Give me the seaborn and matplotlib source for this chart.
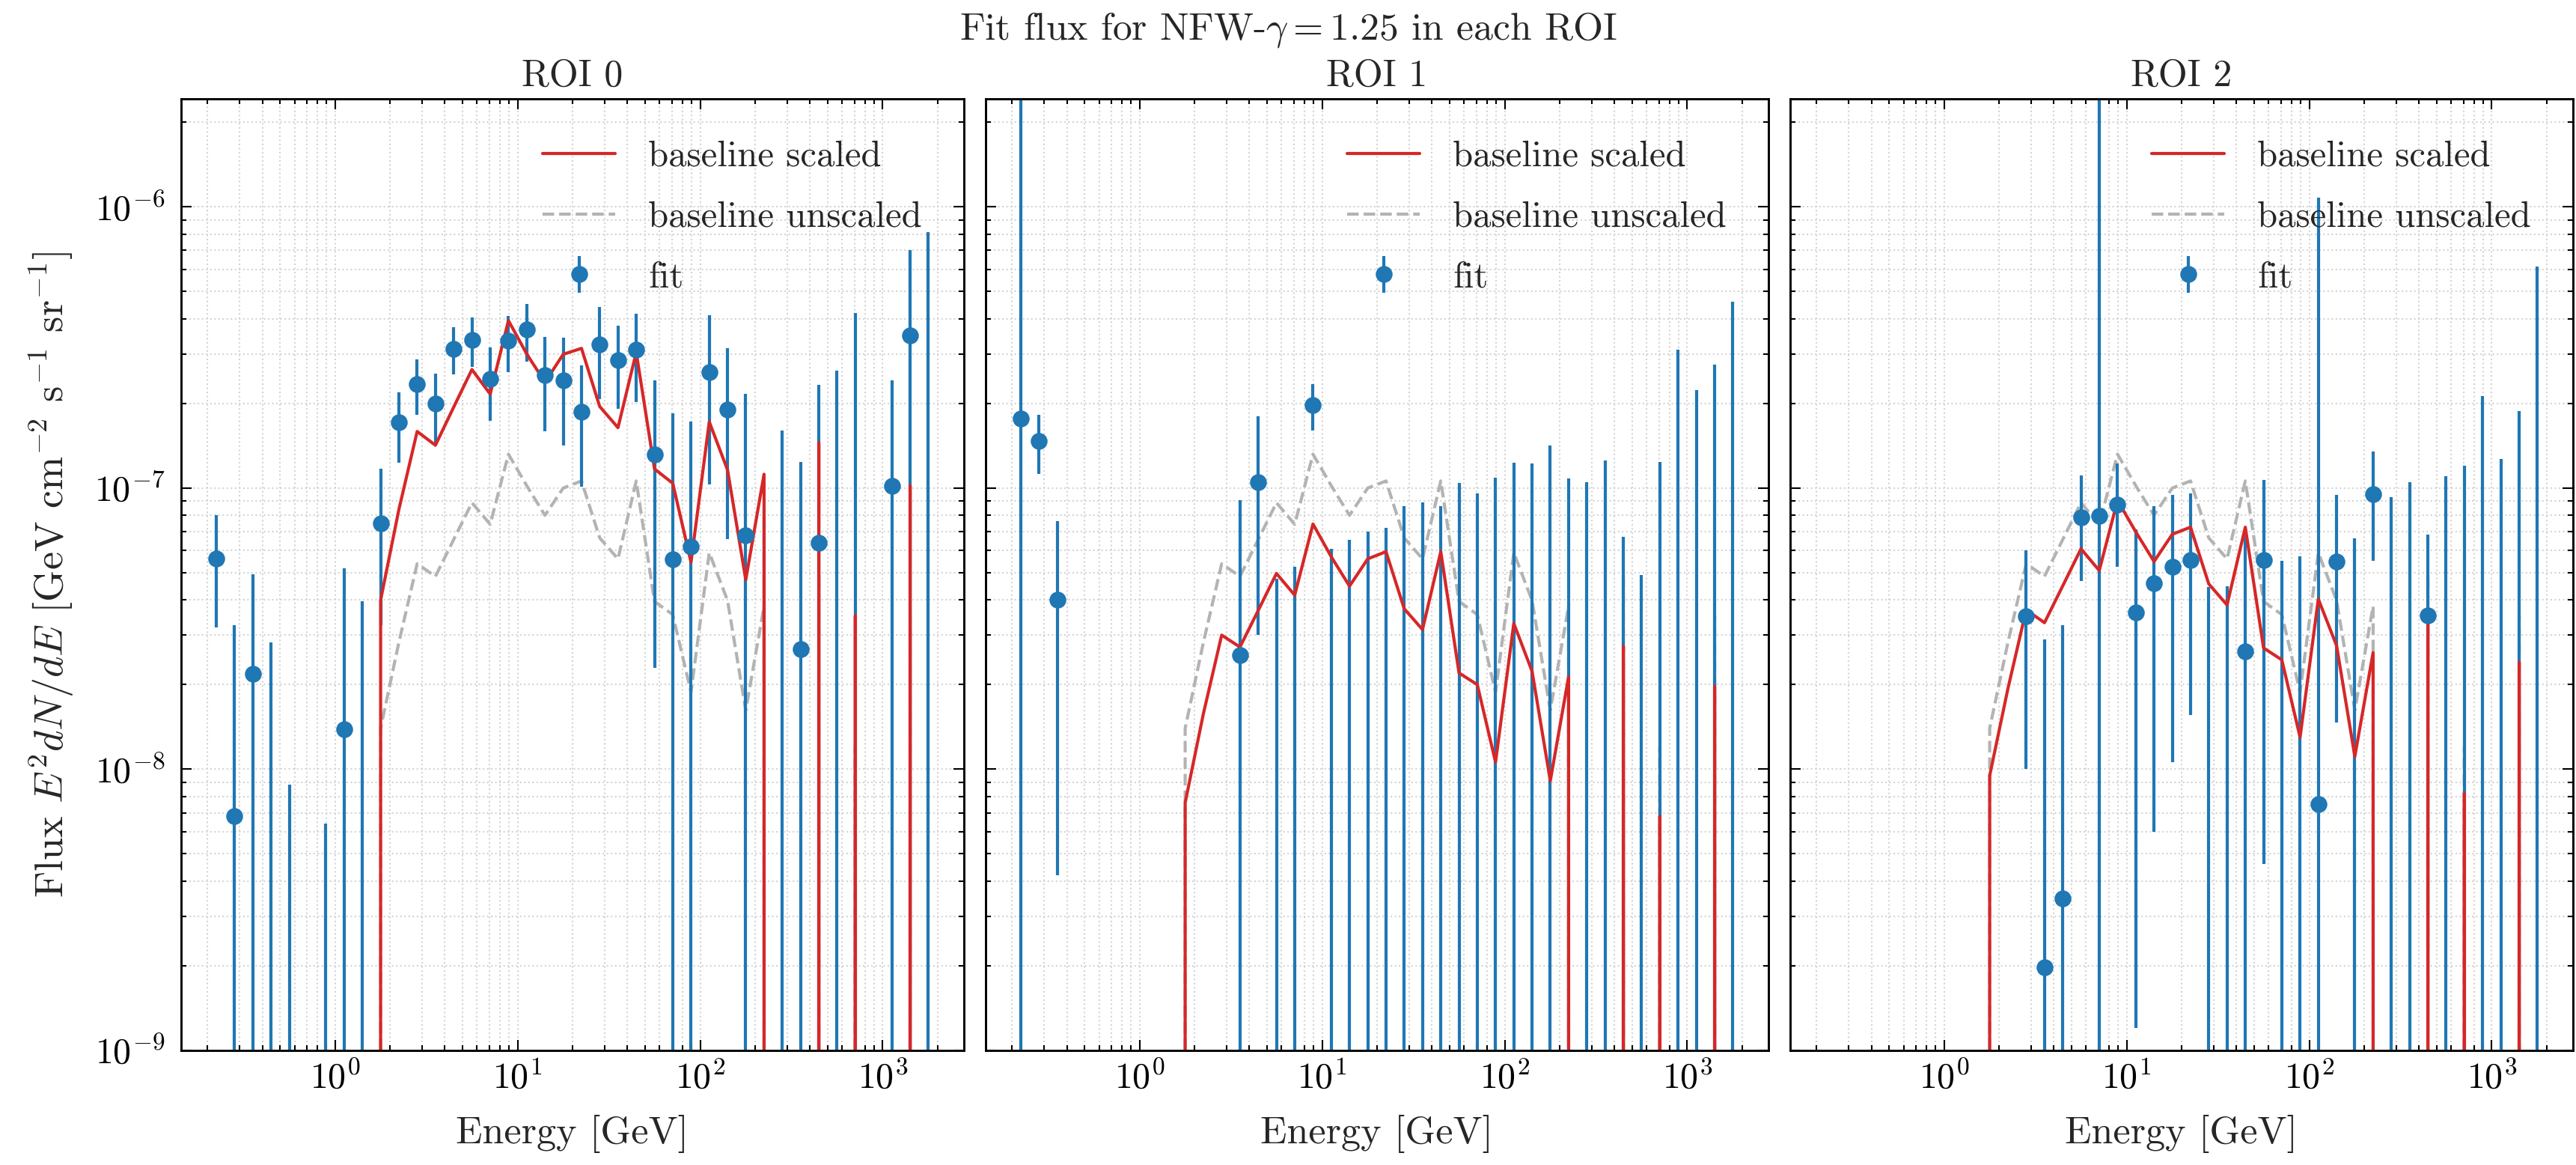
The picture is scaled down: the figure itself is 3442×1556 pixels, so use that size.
import numpy as np
import pandas as pd
import matplotlib
matplotlib.use("Agg")
import matplotlib.pyplot as plt
import seaborn as sns

nan = np.nan

# Energy bin centres [GeV]
energy = [0.2239, 0.2818, 0.3548, 0.4467, 0.5623, 0.7079, 0.8913, 1.122, 1.413, 1.778,
          2.239, 2.818, 3.548, 4.467, 5.623, 7.079, 8.913, 11.22, 14.13, 17.78,
          22.39, 28.18, 35.48, 44.67, 56.23, 70.79, 89.13, 112.2, 141.3, 177.8,
          223.9, 281.8, 354.8, 446.7, 562.3, 707.9, 891.3, 1122.0, 1413.0, 1778.0]

baseline_unscaled = [0, 0, 0, 0, 0, 0, 0, 0, 0,
                     1.4e-8, 2.83e-8, 5.38e-8, 4.85e-8, 6.56e-8, 8.87e-8, 7.43e-8, 1.32e-7, 1.02e-7, 8.0e-8,
                     1.0e-7, 1.06e-7, 6.65e-8, 5.6e-8, 1.06e-7, 3.95e-8, 3.55e-8, 1.88e-8, 5.89e-8, 3.98e-8,
                     1.62e-8, 3.8e-8, 0, 0, 4.9e-8, 0, 1.2e-8, 0, 0, 3.5e-8, 0]

scaled_roi0 = [0, 0, 0, 0, 0, 0, 0, 0, 0,
               4.0e-8, 8.4e-8, 1.59e-7, 1.42e-7, 1.94e-7, 2.64e-7, 2.16e-7, 3.94e-7, 3.0e-7, 2.38e-7,
               2.99e-7, 3.14e-7, 1.95e-7, 1.64e-7, 3.04e-7, 1.17e-7, 1.04e-7, 5.45e-8, 1.72e-7, 1.16e-7,
               4.72e-8, 1.12e-7, 0, 0, 1.45e-7, 0, 3.52e-8, 0, 0, 1.02e-7, 0]
scaled_roi1 = [0, 0, 0, 0, 0, 0, 0, 0, 0,
               7.6e-9, 1.58e-8, 3.0e-8, 2.72e-8, 3.67e-8, 4.97e-8, 4.16e-8, 7.45e-8, 5.7e-8, 4.48e-8,
               5.6e-8, 5.94e-8, 3.72e-8, 3.14e-8, 5.94e-8, 2.2e-8, 2.0e-8, 1.06e-8, 3.3e-8, 2.23e-8,
               9.1e-9, 2.13e-8, 0, 0, 2.74e-8, 0, 6.8e-9, 0, 0, 1.97e-8, 0]
scaled_roi2 = [0, 0, 0, 0, 0, 0, 0, 0, 0,
               9.5e-9, 1.94e-8, 3.69e-8, 3.32e-8, 4.49e-8, 6.08e-8, 5.09e-8, 9.04e-8, 6.99e-8, 5.48e-8,
               6.85e-8, 7.26e-8, 4.56e-8, 3.84e-8, 7.26e-8, 2.7e-8, 2.45e-8, 1.3e-8, 4.03e-8, 2.75e-8,
               1.11e-8, 2.6e-8, 0, 0, 3.36e-8, 0, 8.2e-9, 0, 0, 2.4e-8, 0]

fit_roi0 = [5.6e-8, 6.8e-9, 2.18e-8, 0, 0, nan, 0, 1.39e-8, 0, 7.5e-8,
            1.71e-7, 2.34e-7, 2.0e-7, 3.13e-7, 3.37e-7, 2.45e-7, 3.34e-7, 3.66e-7, 2.52e-7, 2.42e-7,
            1.87e-7, 3.24e-7, 2.85e-7, 3.1e-7, 1.32e-7, 5.57e-8, 6.2e-8, 2.58e-7, 1.9e-7, 6.78e-8,
            0, 0, 2.67e-8, 6.38e-8, 0, 0, nan, 1.02e-7, 3.5e-7, 0]
err_roi0 = [2.4e-8, 2.57e-8, 2.75e-8, 2.82e-8, 8.8e-9, nan, 6.4e-9, 3.8e-8, 3.95e-8, 4.25e-8,
            4.8e-8, 5.2e-8, 5.6e-8, 6.0e-8, 6.7e-8, 7.1e-8, 7.6e-8, 8.5e-8, 9.3e-8, 1.0e-7,
            8.6e-8, 1.17e-7, 9.4e-8, 1.08e-7, 1.09e-7, 1.29e-7, 1.1e-7, 1.55e-7, 1.24e-7, 1.48e-7,
            8.0e-8, 1.6e-7, 9.7e-8, 1.69e-7, 2.61e-7, 4.2e-7, nan, 1.39e-7, 3.52e-7, 8.15e-7]

fit_roi1 = [1.77e-7, 1.47e-7, 4.02e-8, nan, nan, nan, nan, nan, nan, nan,
            nan, nan, 2.54e-8, 1.05e-7, 0, 0, 1.97e-7, 0, 0, 0,
            0, 0, 0, 0, 0, 0, 0, 0, 0, 0,
            0, 0, 0, 0, 0, 0, 0, 0, 0, 0]
err_roi1 = [3.0e-6, 3.5e-8, 3.6e-8, nan, nan, nan, nan, nan, nan, nan,
            nan, nan, 6.5e-8, 7.5e-8, 4.75e-8, 5.26e-8, 3.7e-8, 6.1e-8, 6.55e-8, 7.0e-8,
            7.2e-8, 8.6e-8, 8.9e-8, 8.6e-8, 1.04e-7, 9.6e-8, 1.09e-7, 1.23e-7, 1.22e-7, 1.42e-7,
            1.08e-7, 1.05e-7, 1.25e-7, 6.7e-8, 4.9e-8, 1.24e-7, 3.1e-7, 2.23e-7, 2.75e-7, 4.6e-7]

fit_roi2 = [nan, nan, nan, nan, nan, nan, nan, nan, nan, nan,
            nan, 3.5e-8, 1.98e-9, 3.47e-9, 7.88e-8, 7.98e-8, 8.74e-8, 3.62e-8, 4.6e-8, 5.26e-8,
            5.56e-8, 0, 0, 2.62e-8, 5.56e-8, 0, 0, 7.5e-9, 5.47e-8, 0,
            9.53e-8, 0, 0, 3.53e-8, 0, 0, 0, 0, 0, 0]
err_roi2 = [nan, nan, nan, nan, nan, nan, nan, nan, nan, nan,
            nan, 2.5e-8, 2.7e-8, 2.9e-8, 3.2e-8, 3.0e-6, 3.5e-8, 3.5e-8, 4.0e-8, 4.2e-8,
            4.0e-8, 4.44e-8, 4.48e-8, 4.5e-8, 5.1e-8, 5.53e-8, 5.73e-8, 1.07e-6, 4.0e-8, 6.61e-8,
            4.0e-8, 9.29e-8, 1.05e-7, 3.3e-8, 1.1e-7, 1.2e-7, 2.12e-7, 1.27e-7, 1.88e-7, 6.15e-7]

roi_titles = ["ROI 0", "ROI 1", "ROI 2"]
scaled = [scaled_roi0, scaled_roi1, scaled_roi2]
fits = [fit_roi0, fit_roi1, fit_roi2]
errs = [err_roi0, err_roi1, err_roi2]

sns.set_theme(style="ticks")
plt.rcParams.update({
    "font.family": ["cmr10"],
    "mathtext.fontset": "cm",
    "axes.formatter.use_mathtext": True,
    "axes.unicode_minus": False,
    "font.size": 12,
    "axes.titlesize": 12,
    "axes.labelsize": 12.5,
    "xtick.labelsize": 11.5,
    "ytick.labelsize": 11.5,
    "legend.fontsize": 11.7,
    "axes.linewidth": 0.7,
    "axes.edgecolor": "black",
    "xtick.direction": "in",
    "ytick.direction": "in",
    "xtick.top": True,
    "ytick.right": True,
    "xtick.major.size": 3.4,
    "ytick.major.size": 3.4,
    "xtick.minor.size": 1.7,
    "ytick.minor.size": 1.7,
    "xtick.major.width": 0.5,
    "ytick.major.width": 0.5,
    "xtick.minor.width": 0.5,
    "ytick.minor.width": 0.5,
    "ytick.major.pad": 5,
    "xtick.major.pad": 3.5,
    "xtick.minor.visible": True,
    "ytick.minor.visible": True,
    "xtick.color": "black",
    "ytick.color": "black",
    "axes.axisbelow": True,
})

W, H = 3442, 1556
fig = plt.figure(figsize=(W / 300, H / 300), dpi=300)
lefts = [241.5, 1316.5, 2391.5]
aw = 1046.5
bottom_px, top_px = 1403.0, 131.5

axes = []
for k in range(3):
    rect = [lefts[k] / W, 1 - bottom_px / H, aw / W, (bottom_px - top_px) / H]
    ax = fig.add_axes(rect, sharey=axes[0] if axes else None)
    axes.append(ax)

for k, ax in enumerate(axes):
    ax.errorbar(energy, fits[k], yerr=errs[k], fmt="o", color="#1f77b4",
                ms=4.4, elinewidth=1.0, capsize=0, label="fit")
    sns.lineplot(x=energy, y=scaled[k], ax=ax, color="#d62728", lw=1.0,
                 estimator=None, sort=False, label="baseline scaled")
    sns.lineplot(x=energy, y=baseline_unscaled, ax=ax, color="#b3b3b3", lw=1.0,
                 linestyle="--", estimator=None, sort=False, zorder=1.5,
                 label="baseline unscaled")
    ax.set_xscale("log")
    ax.set_yscale("log")
    ax.set_xlim(10 ** -0.845, 10 ** 3.445)
    ax.set_ylim(1e-9, 2.43e-6)
    ax.grid(True, which="both", linestyle=":", linewidth=0.5, color="#d4d4d4")
    ax.set_title(roi_titles[k], pad=4)
    ax.set_xlabel("Energy [GeV]", labelpad=6)
    if k > 0:
        ax.tick_params(labelleft=False)
        ax.set_ylabel("")
    ax.legend(loc="upper right", frameon=False, borderaxespad=0.75,
              labelspacing=0.75, handletextpad=0.9)
    for s in ax.spines.values():
        s.set_visible(True)

axes[0].set_ylabel(r"Flux $E^2dN/dE$ [GeV cm$^{-2}$ s$^{-1}$ sr$^{-1}$]",
                   fontsize=13, labelpad=6)
fig.suptitle(r"Fit flux for NFW-$\gamma = 1.25$ in each ROI", y=0.974, va="center", fontsize=12.4)

fig.savefig("out.png", dpi=300)
